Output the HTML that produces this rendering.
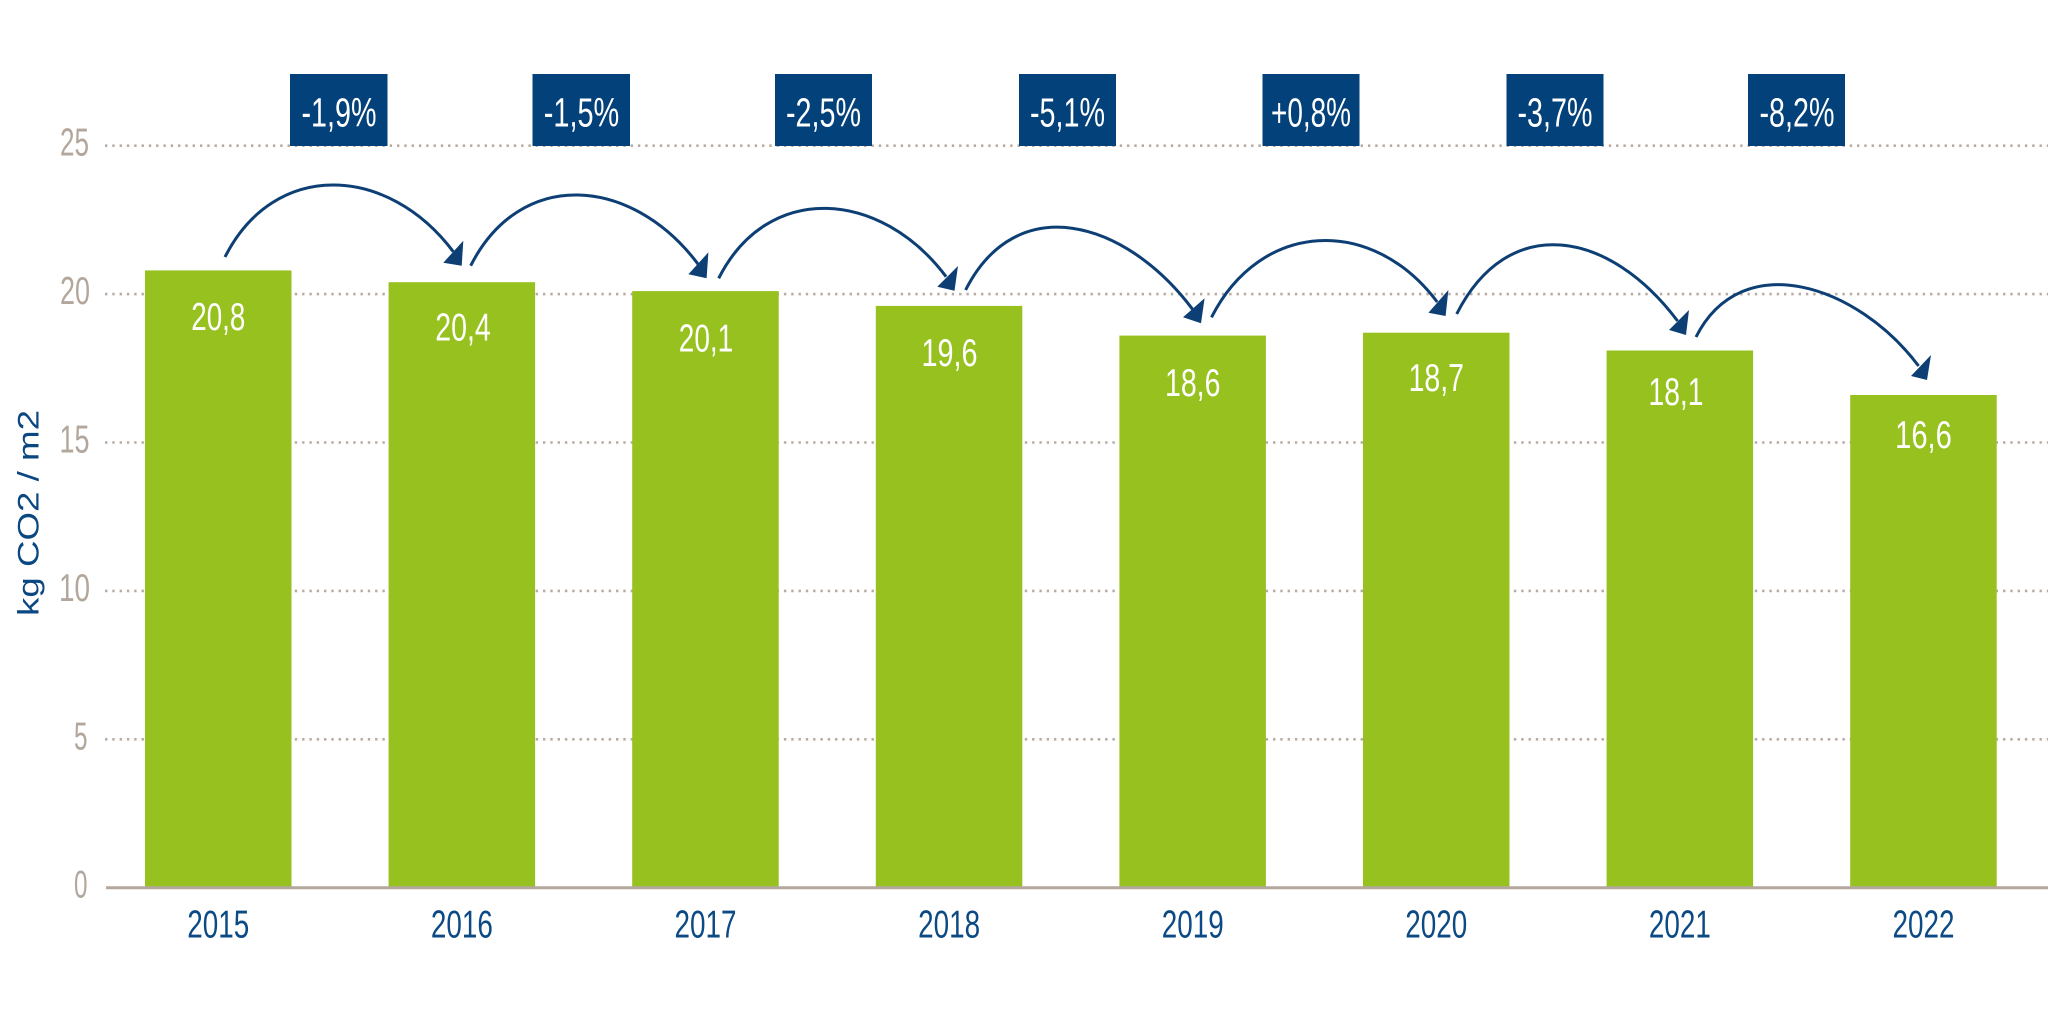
<!DOCTYPE html>
<html>
<head>
<meta charset="utf-8">
<style>
  html,body{margin:0;padding:0;background:#ffffff;}
  svg{display:block;}
  text{font-family:"Liberation Sans", sans-serif;}
</style>
</head>
<body>
<svg width="2048" height="1016" viewBox="0 0 2048 1016" xmlns="http://www.w3.org/2000/svg">
  <rect x="0" y="0" width="2048" height="1016" fill="#ffffff"/>

  <!-- dotted gridlines -->
  <g stroke="#b8aca2" stroke-width="2.6" stroke-dasharray="2.4 4.9" fill="none">
    <line x1="105" y1="145.7" x2="2048" y2="145.7"/>
    <line x1="105" y1="294.1" x2="2048" y2="294.1"/>
    <line x1="105" y1="442.5" x2="2048" y2="442.5"/>
    <line x1="105" y1="590.9" x2="2048" y2="590.9"/>
    <line x1="105" y1="739.3" x2="2048" y2="739.3"/>
  </g>

  <!-- y tick labels -->
  <g fill="#b3a69b" font-size="39" text-anchor="end">
    <text x="89" y="155.7" textLength="29" lengthAdjust="spacingAndGlyphs">25</text>
    <text x="90" y="304.1" textLength="30" lengthAdjust="spacingAndGlyphs">20</text>
    <text x="89.5" y="452.5" textLength="30" lengthAdjust="spacingAndGlyphs">15</text>
    <text x="90" y="600.9" textLength="31" lengthAdjust="spacingAndGlyphs">10</text>
    <text x="87.5" y="749.3" textLength="13.5" lengthAdjust="spacingAndGlyphs">5</text>
    <text x="87.5" y="897.7" textLength="13.5" lengthAdjust="spacingAndGlyphs">0</text>
  </g>

  <!-- y axis title -->
  <text transform="translate(38.5,513) rotate(-90)" text-anchor="middle" fill="#0b4780" font-size="30" textLength="206" lengthAdjust="spacingAndGlyphs">kg CO2 / m2</text>

  <!-- bars -->
  <g fill="#96c11f">
    <rect x="145" y="270.4" width="146.5" height="616.3"/>
    <rect x="388.6" y="282.2" width="146.5" height="604.5"/>
    <rect x="632.2" y="291.1" width="146.5" height="595.6"/>
    <rect x="875.8" y="305.9" width="146.5" height="580.8"/>
    <rect x="1119.4" y="335.6" width="146.5" height="551.1"/>
    <rect x="1363" y="332.7" width="146.5" height="554"/>
    <rect x="1606.6" y="350.5" width="146.5" height="536.2"/>
    <rect x="1850.2" y="395" width="146.5" height="491.7"/>
  </g>

  <!-- axis line -->
  <line x1="106" y1="887.7" x2="2048" y2="887.7" stroke="#b4a89e" stroke-width="3"/>

  <!-- value labels -->
  <g fill="#ffffff" font-size="39" text-anchor="middle">
    <text x="218.3" y="330" textLength="54" lengthAdjust="spacingAndGlyphs">20,8</text>
    <text x="463" y="340.7" textLength="55.5" lengthAdjust="spacingAndGlyphs">20,4</text>
    <text x="706" y="351.7" textLength="54.5" lengthAdjust="spacingAndGlyphs">20,1</text>
    <text x="949.5" y="366" textLength="56" lengthAdjust="spacingAndGlyphs">19,6</text>
    <text x="1192.7" y="396" textLength="55.4" lengthAdjust="spacingAndGlyphs">18,6</text>
    <text x="1436.3" y="391" textLength="55.4" lengthAdjust="spacingAndGlyphs">18,7</text>
    <text x="1676" y="405" textLength="55" lengthAdjust="spacingAndGlyphs">18,1</text>
    <text x="1923.5" y="448" textLength="56.7" lengthAdjust="spacingAndGlyphs">16,6</text>
  </g>

  <!-- year labels -->
  <g fill="#0b4a84" font-size="39" text-anchor="middle">
    <text x="218.3" y="937.7" textLength="62" lengthAdjust="spacingAndGlyphs">2015</text>
    <text x="461.9" y="937.7" textLength="62" lengthAdjust="spacingAndGlyphs">2016</text>
    <text x="705.5" y="937.7" textLength="62" lengthAdjust="spacingAndGlyphs">2017</text>
    <text x="949.1" y="937.7" textLength="62" lengthAdjust="spacingAndGlyphs">2018</text>
    <text x="1192.7" y="937.7" textLength="62" lengthAdjust="spacingAndGlyphs">2019</text>
    <text x="1436.3" y="937.7" textLength="62" lengthAdjust="spacingAndGlyphs">2020</text>
    <text x="1679.9" y="937.7" textLength="62" lengthAdjust="spacingAndGlyphs">2021</text>
    <text x="1923.5" y="937.7" textLength="62" lengthAdjust="spacingAndGlyphs">2022</text>
  </g>

  <!-- percentage boxes -->
  <g fill="#03417a">
    <rect x="290" y="74" width="97.5" height="72"/>
    <rect x="532.5" y="74" width="97.5" height="72"/>
    <rect x="775" y="74" width="97" height="72"/>
    <rect x="1019" y="74" width="97" height="72"/>
    <rect x="1262.5" y="74" width="97" height="72"/>
    <rect x="1506.5" y="74" width="97" height="72"/>
    <rect x="1748" y="74" width="97" height="72"/>
  </g>
  <g fill="#ffffff" font-size="41" text-anchor="middle">
    <text x="339" y="126.5" textLength="75" lengthAdjust="spacingAndGlyphs">-1,9%</text>
    <text x="581.5" y="126.5" textLength="75.5" lengthAdjust="spacingAndGlyphs">-1,5%</text>
    <text x="823.5" y="126.5" textLength="75" lengthAdjust="spacingAndGlyphs">-2,5%</text>
    <text x="1067.5" y="126.5" textLength="75" lengthAdjust="spacingAndGlyphs">-5,1%</text>
    <text x="1311" y="126.5" textLength="80" lengthAdjust="spacingAndGlyphs">+0,8%</text>
    <text x="1555" y="126.5" textLength="75" lengthAdjust="spacingAndGlyphs">-3,7%</text>
    <text x="1797" y="126.5" textLength="75" lengthAdjust="spacingAndGlyphs">-8,2%</text>
  </g>

  <!-- arrows -->
  <g fill="none" stroke="#0d3f75" stroke-width="3" stroke-linecap="butt">
    <path d="M225,257 C274.2,159.6 387.7,164.2 453.3,251.7"/>
    <path d="M470.7,265.7 C520.4,167.4 632,176 698.2,264.3"/>
    <path d="M718.7,278.3 C767.8,181.2 880.6,189.4 946.1,276.7"/>
    <path d="M965.6,290 C1016.2,189.9 1125.1,219.3 1192.6,309.3"/>
    <path d="M1211.5,317.3 C1260.5,220.5 1371.9,215 1437.2,302"/>
    <path d="M1456.7,314 C1508.2,212.2 1609,229.5 1677.6,321"/>
    <path d="M1696,337 C1741.8,246.5 1857.6,284.6 1918.6,366"/>
  </g>
  <g fill="#0d3f75">
    <polygon points="443.3,262.7 463.3,240.7 461.7,265.7"/>
    <polygon points="688.4,274.3 708.4,252.3 706.6,278.3"/>
    <polygon points="937.3,286.7 958,266 954.5,290.7"/>
    <polygon points="1183,317.3 1204.6,298.3 1201,323.3"/>
    <polygon points="1428.4,312.7 1448.4,290 1445.6,316"/>
    <polygon points="1669,330 1689,310 1686,335"/>
    <polygon points="1911,376 1931,355 1927,380"/>
  </g>
</svg>
</body>
</html>
